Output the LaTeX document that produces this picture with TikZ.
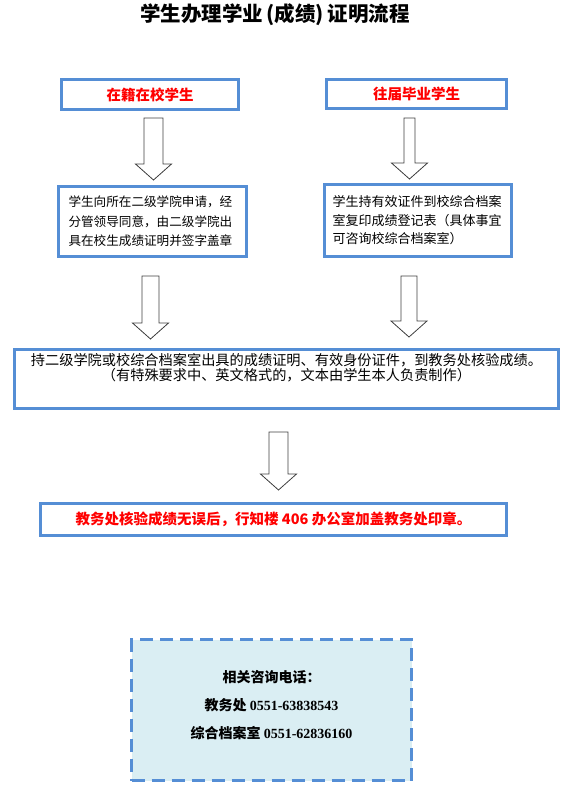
\documentclass[tikz,border=0pt]{standalone}
\usepackage{fontspec}
\setmainfont{Noto Sans CJK SC}
\newfontfamily\numfont{Liberation Serif}
\usetikzlibrary{calc}
\definecolor{boxblue}{RGB}{85,142,213}
\definecolor{infofill}{RGB}{218,238,243}

\begin{document}
\begin{tikzpicture}[x=1pt,y=-1pt,
      every node/.style={inner sep=0pt},
      stepbox/.style={draw=boxblue,line width=3pt,fill=white},
      headbox/.style={stepbox,font=\fontsize{14.5}{16}\selectfont\bfseries,text=red},
      textbox/.style={stepbox,font=\fontsize{12.6}{19.5}\selectfont,align=left},
      infobox/.style={draw=boxblue,line width=3pt,dash pattern=on 13pt off 7pt,fill=infofill},
      blockarrow/.style={draw=black!75,line width=.8pt,fill=white,
        to path={let \p1=(\tikztostart),\p2=(\tikztotarget) in
          (\x1-#1,\y1) -- (\x1+#1,\y1) -- (\x1+#1,\y2+16pt) -- (\x1+18pt,\y2+16pt)
          -- (\x1,\y2) -- (\x1-18pt,\y2+16pt) -- (\x1-#1,\y2+16pt) -- cycle}},
      blockarrow/.default=9pt]
  \useasboundingbox (0,0) rectangle (576,798);
  \node[font=\fontsize{20.5}{22}\selectfont\bfseries] (title) at (275,15) {学生办理学业\,(成绩)\,证明流程};
  % two starting cases
  \node[headbox,minimum width=177,minimum height=30] (zx) at (150,94.5) {在籍在校学生};
  \node[headbox,minimum width=180,minimum height=29] (wj) at (416.5,94) {往届毕业学生};
  \node[textbox,minimum width=188,minimum height=70,text width=168] (zxstep) at (152.5,221.5)
    {学生向所在二级学院申请，经\\分管领导同意，由二级学院出\\具在校生成绩证明并签字盖章};
  \node[textbox,font=\fontsize{13}{18.5}\selectfont,minimum width=187,minimum height=72,text width=171] (wjstep) at (418,220.5)
    {学生持有效证件到校综合档案\\室复印成绩登记表（具体事宜\\可咨询校综合档案室）};
  % common steps
  \node[stepbox,minimum width=544,minimum height=59] (verify) at (286.5,379)
    {\parbox[c][59pt][t]{540pt}{\centering\fontsize{14.2}{15.5}\selectfont\vspace*{3.5pt}%
      持二级学院或校综合档案室出具的成绩证明、有效身份证件，到教务处核验成绩。\\
      （有特殊要求中、英文格式的，文本由学生本人负责制作）}};
  \node[headbox,minimum width=466,minimum height=32] (stamp) at (273.5,519.5)
    {教务处核验成绩无误后，行知楼 406 办公室加盖教务处印章。};
  \node[infobox,minimum width=280,minimum height=141] (contact) at (271.5,710)
    {\parbox[c][141pt][t]{276pt}{\centering\fontsize{14}{28}\selectfont\bfseries\vspace*{30.5pt}%
      相关咨询电话：\\
      教务处 {\numfont 0551-63838543}\\
      综合档案室 {\numfont 0551-62836160}}};
  % hollow arrows
  \draw[blockarrow=9.5pt] ([xshift=3.5,yshift=-7]zx.south) to ([yshift=5]zxstep.north);
  \draw[blockarrow=5.5pt] ([xshift=-7,yshift=-8]wj.south) to ([yshift=4]wjstep.north);
  \draw[blockarrow=8.5pt] ([xshift=-2,yshift=-18]zxstep.south) to ([yshift=9]verify.north);
  \draw[blockarrow=8pt] ([xshift=-9,yshift=-18]wjstep.south) to ([yshift=11]verify.north);
  \draw[blockarrow=9.5pt] ([xshift=-8,yshift=-22]verify.south) to ([yshift=12]stamp.north);
\end{tikzpicture}
\end{document}
